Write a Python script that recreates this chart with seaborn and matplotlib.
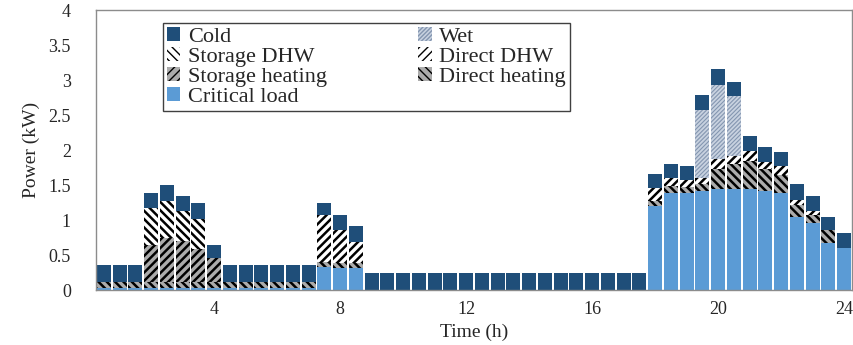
import numpy as np
import matplotlib
matplotlib.use("Agg")
import matplotlib.pyplot as plt
import seaborn as sns

# half-hour slots, labelled by their end time (h)
slots = np.arange(0.5, 24.01, 0.5)
tick_hours = [4, 8, 12, 16, 20, 24]

critical_load = [0.03, 0.03, 0.03, 0.03, 0.03, 0.03, 0.03, 0.03, 0.03, 0.03, 0.03, 0.03,
                 0.03, 0.03, 0.33, 0.31, 0.31, 0.0, 0.0, 0.0, 0.0, 0.0, 0.0, 0.0,
                 0.0, 0.0, 0.0, 0.0, 0.0, 0.0, 0.0, 0.0, 0.0, 0.0, 0.0, 1.20,
                 1.39, 1.39, 1.41, 1.44, 1.44, 1.44, 1.41, 1.39, 1.05, 0.96, 0.67, 0.60]
direct_heating = [0.09, 0.09, 0.09, 0.09, 0.09, 0.09, 0.09, 0.09, 0.09, 0.09, 0.09, 0.09,
                  0.09, 0.09, 0.07, 0.08, 0.08, 0.0, 0.0, 0.0, 0.0, 0.0, 0.0, 0.0,
                  0.0, 0.0, 0.0, 0.0, 0.0, 0.0, 0.0, 0.0, 0.0, 0.0, 0.0, 0.08,
                  0.10, 0.09, 0.10, 0.29, 0.36, 0.41, 0.32, 0.26, 0.17, 0.12, 0.19, 0.0]
storage_heating = [0.0, 0.0, 0.0, 0.53, 0.62, 0.58, 0.46, 0.34, 0.0, 0.0, 0.0, 0.0,
                   0.0, 0.0, 0.0, 0.0, 0.0, 0.0, 0.0, 0.0, 0.0, 0.0, 0.0, 0.0,
                   0.0, 0.0, 0.0, 0.0, 0.0, 0.0, 0.0, 0.0, 0.0, 0.0, 0.0, 0.0,
                   0.0, 0.0, 0.0, 0.0, 0.0, 0.0, 0.0, 0.0, 0.0, 0.0, 0.0, 0.0]
direct_dhw = [0.0, 0.0, 0.0, 0.0, 0.0, 0.0, 0.0, 0.0, 0.0, 0.0, 0.0, 0.0,
              0.0, 0.0, 0.68, 0.47, 0.30, 0.0, 0.0, 0.0, 0.0, 0.0, 0.0, 0.0,
              0.0, 0.0, 0.0, 0.0, 0.0, 0.0, 0.0, 0.0, 0.0, 0.0, 0.0, 0.18,
              0.11, 0.10, 0.10, 0.14, 0.12, 0.14, 0.10, 0.12, 0.07, 0.05, 0.0, 0.0]
storage_dhw = [0.0, 0.0, 0.0, 0.53, 0.54, 0.43, 0.44, 0.0, 0.0, 0.0, 0.0, 0.0,
               0.0, 0.0, 0.0, 0.0, 0.0, 0.0, 0.0, 0.0, 0.0, 0.0, 0.0, 0.0,
               0.0, 0.0, 0.0, 0.0, 0.0, 0.0, 0.0, 0.0, 0.0, 0.0, 0.0, 0.0,
               0.0, 0.0, 0.0, 0.0, 0.0, 0.0, 0.0, 0.0, 0.0, 0.0, 0.0, 0.0]
wet = [0.0, 0.0, 0.0, 0.0, 0.0, 0.0, 0.0, 0.0, 0.0, 0.0, 0.0, 0.0,
       0.0, 0.0, 0.0, 0.0, 0.0, 0.0, 0.0, 0.0, 0.0, 0.0, 0.0, 0.0,
       0.0, 0.0, 0.0, 0.0, 0.0, 0.0, 0.0, 0.0, 0.0, 0.0, 0.0, 0.0,
       0.0, 0.0, 0.96, 1.07, 0.86, 0.0, 0.0, 0.0, 0.0, 0.0, 0.0, 0.0]
cold = [0.24, 0.24, 0.24, 0.21, 0.22, 0.22, 0.23, 0.19, 0.24, 0.24, 0.24, 0.24,
        0.24, 0.24, 0.17, 0.22, 0.22, 0.25, 0.25, 0.25, 0.25, 0.25, 0.25, 0.25,
        0.25, 0.25, 0.25, 0.25, 0.25, 0.25, 0.25, 0.25, 0.25, 0.25, 0.25, 0.20,
        0.20, 0.20, 0.22, 0.22, 0.20, 0.22, 0.21, 0.20, 0.22, 0.21, 0.19, 0.22]

# (label, values, face, hatch, hatch colour, hatch width) bottom -> top
layers = [
    ("Critical load", critical_load, "#5b9bd5", "", "#5b9bd5", 1.0),
    ("Direct heating", direct_heating, "#ababab", "\\\\\\\\", "black", 1.8),
    ("Storage heating", storage_heating, "#ababab", "////", "black", 1.8),
    ("Direct DHW", direct_dhw, "white", "////", "black", 1.8),
    ("Storage DHW", storage_dhw, "white", "\\\\\\\\", "black", 1.8),
    ("Wet", wet, "#c8d2e0", "////////", "#8496b0", 0.8),
    ("Cold", cold, "#1f4e79", "", "#1f4e79", 1.0),
]

sns.set_style("white")
plt.rcParams["font.family"] = ["Liberation Serif", "DejaVu Serif"]

fig = plt.figure(figsize=(8.54, 3.45), dpi=100)
ax = fig.add_axes([0.1124, 0.1594, 0.8853, 0.8102])

x = np.arange(len(slots))
bottom = np.zeros(len(slots))
handles = {}
for label, vals, face, hatch, hcol, hlw in layers:
    vals = np.array(vals)
    with plt.rc_context({"hatch.linewidth": hlw, "hatch.color": hcol}):
        bars = ax.bar(x, vals, width=0.88, bottom=bottom, color=face,
                      edgecolor=hcol, linewidth=0, hatch=hatch if hatch else None,
                      label=label)
        for b in bars:
            if hasattr(b, "set_hatch_linewidth"):
                b.set_hatch_linewidth(hlw)
    handles[label] = bars
    bottom += vals

ax.set_xlim(-0.5, len(slots) - 0.5)
ax.set_ylim(0, 4)
ax.set_yticks(np.arange(0, 4.01, 0.5))
ax.set_yticklabels(["0", "0.5", "1", "1.5", "2", "2.5", "3", "3.5", "4"])
tick_idx = [int(np.where(np.isclose(slots, h))[0][0]) for h in tick_hours]
ax.set_xticks(tick_idx)
ax.set_xticklabels([str(h) for h in tick_hours])
ax.tick_params(axis="both", length=0, labelsize=13, pad=8)
ax.tick_params(axis="y", pad=18)
ax.set_xlabel("Time (h)", fontsize=14, labelpad=4)
ax.set_ylabel("Power (kW)", fontsize=14, labelpad=6)

for side in ["left", "bottom", "top", "right"]:
    ax.spines[side].set_visible(True)
    ax.spines[side].set_color("#8c8c8c")
    ax.spines[side].set_linewidth(1.0)

order = ["Cold", "Storage DHW", "Storage heating", "Critical load",
         "Wet", "Direct DHW", "Direct heating"]
leg = ax.legend([handles[k] for k in order], order, ncol=2, loc="upper left",
                bbox_to_anchor=(0.088, 0.957), fontsize=16, frameon=True,
                fancybox=False, edgecolor="#404040", framealpha=1,
                handlelength=0.6, handleheight=0.6, handletextpad=0.35,
                columnspacing=4.1, labelspacing=0.0, borderpad=0.2,
                borderaxespad=0)
leg.get_frame().set_linewidth(1.0)

fig.savefig("out.png", dpi=100)
plt.close(fig)
